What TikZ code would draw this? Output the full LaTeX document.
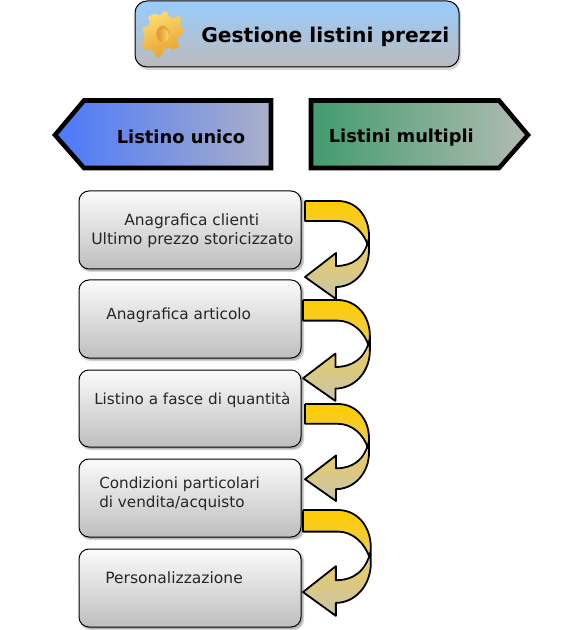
\documentclass[tikz,border=0pt]{standalone}
\usepackage{fontspec}
\setmainfont{DejaVu Sans}
\definecolor{hdtop}{HTML}{99CCFF}
\definecolor{hdbot}{HTML}{BBBBBB}
\definecolor{boxtop}{HTML}{FBFBFB}
\definecolor{boxbot}{HTML}{BEBEBE}
\definecolor{arrA}{HTML}{FFCC00}
\definecolor{arrB}{HTML}{E8CC60}
\definecolor{arrC}{HTML}{C8C4B0}
\definecolor{gearhi}{HTML}{FCDC70}
\definecolor{gearlo}{HTML}{E9A02E}
\definecolor{holedark}{HTML}{E2A03A}
\definecolor{holelite}{HTML}{FAD868}
\definecolor{tabAl}{RGB}{75,120,250}
\definecolor{tabAr}{RGB}{170,176,200}
\definecolor{tabBl}{RGB}{65,155,110}
\definecolor{tabBr}{RGB}{178,188,178}
\tikzset{
  x=0.75pt,y=-0.75pt,
  boxshape/.style={rounded corners=7.5pt,draw=black,line width=0.75pt,top color=boxtop,bottom color=boxbot},
  headshape/.style={rounded corners=9pt,draw=black,line width=0.75pt,top color=hdtop,bottom color=hdbot},
  shadowshape/.style={rounded corners=7.5pt,fill=black,fill opacity=0.16,draw=none},
  tabshape/.style={draw=black,line width=3.4pt,line join=miter,miter limit=10},
  bigtext/.style={font=\fontsize{15.2}{18}\selectfont\bfseries,anchor=base west,inner sep=0pt},
  tabtext/.style={font=\fontsize{13.4}{16}\selectfont\bfseries,anchor=base west,inner sep=0pt},
  boxtext/.style={font=\fontsize{#1}{14}\selectfont,anchor=base west,inner sep=0pt,text=black!85},
  arrowline/.style={draw=black,line width=1.35pt,line join=round}
}
\newcommand{\roundbox}[4]{% x1 y1 x2 y2
  \fill[shadowshape] (#1+1,#2+1) rectangle (#3+3,#4+3);
  \fill[shadowshape] (#1+2,#2+2) rectangle (#3+2,#4+2);
  \draw[boxshape] (#1,#2) rectangle (#3,#4);
}
% curved arrow: left x, top y, x scale, y scale
\newcommand{\curvedarrow}[4]{%
\begin{scope}[shift={(#1,#2)},xscale=#3,yscale=#4]
  \shade[top color=arrA,bottom color=arrC,middle color=arrB]
    (0,0) -- (33,0) .. controls (51,0) and (64,15) .. (64,35)
    -- (64,49) .. controls (64,70) and (49,86) .. (31,86)
    -- (31,98) -- (0,76) -- (31,52) -- (31,65)
    .. controls (47,65) and (60,57) .. (63,45)
    .. controls (59,31) and (47,20) .. (33,20) -- (0,20) -- cycle;
  \draw[arrowline]
    (0,0) -- (33,0) .. controls (51,0) and (64,15) .. (64,35)
    -- (64,49) .. controls (64,70) and (49,86) .. (31,86)
    -- (31,98) -- (0,76) -- (31,52) -- (31,65)
    .. controls (47,65) and (60,57) .. (64,37);
  \draw[arrowline]
    (0,0) -- (0,20) -- (33,20) .. controls (47,20) and (59,31) .. (63,45);
\end{scope}}
\begin{document}
\begin{tikzpicture}
\useasboundingbox (0,0) rectangle (563,630);
% header
\fill[shadowshape,rounded corners=9pt] (136,2) rectangle (461,70);
\draw[headshape] (135,1) rectangle (459,67);
% gear
\begin{scope}[shift={(140,8)},x=0.25pt,y=-0.25pt]
  \shade[top color=gearhi,bottom color=gearlo,shading angle=20,rounded corners=0.6pt]
    (42,18) -- (62,22) -- (70,10) -- (82,12) -- (88,28) -- (102,32) -- (115,22) -- (125,35) -- (118,52)
    -- (130,60) -- (128,78) -- (115,85) -- (112,100) -- (118,115) -- (100,125) -- (85,118) -- (72,125)
    -- (65,142) -- (50,148) -- (38,128) -- (22,122) -- (12,125) -- (5,105) -- (15,90) -- (8,70) -- (8,58)
    -- (25,55) -- (30,38) -- (22,28) -- cycle;
  \fill[holedark] (68,78) ellipse[x radius=19,y radius=25];
  \shade[left color=holedark,right color=holelite] (72,82) ellipse[x radius=14,y radius=20];
\end{scope}
\node[bigtext] (title) at (201,43) {Gestione listini prezzi};
% tabs
\path[tabshape,left color=tabAl,right color=tabAr]
  (55,135) -- (84,100.5) -- (271,100.5) -- (271,168) -- (84,168) -- cycle;
\node[tabtext] (single) at (116.5,144) {Listino unico};
\path[tabshape,left color=tabBl,right color=tabBr]
  (311,100.5) -- (499,100.5) -- (528,135) -- (499,168) -- (311,168) -- cycle;
\node[tabtext] (multi) at (328.5,143) {Listini multipli};
% boxes
\roundbox{79}{191}{301}{269}
\roundbox{79}{280}{301}{358}
\roundbox{79}{370}{301}{447}
\roundbox{79}{459}{301}{537}
\roundbox{79}{549}{301}{627}
\node[boxtext=11.6] (t1) at (124,226) {Anagrafica clienti};
\node[boxtext=11.75] (t2) at (91,245) {Ultimo prezzo storicizzato};
\node[boxtext=11.5] (t3) at (106,319) {Anagrafica articolo};
\node[boxtext=11.4] (t4) at (94,404) {Listino a fasce di quantità};
\node[boxtext=11.4] (t5) at (99,488) {Condizioni particolari};
\node[boxtext=11.4] (t6) at (99,507) {di vendita/acquisto};
\node[boxtext=11.65] (t7) at (105,583) {Personalizzazione};
% arrows
\curvedarrow{305}{201}{1}{1}
\curvedarrow{303}{300}{1.045}{1.03}
\curvedarrow{305}{404}{1}{0.99}
\curvedarrow{303}{510}{1.06}{1.08}
\end{tikzpicture}
\end{document}
